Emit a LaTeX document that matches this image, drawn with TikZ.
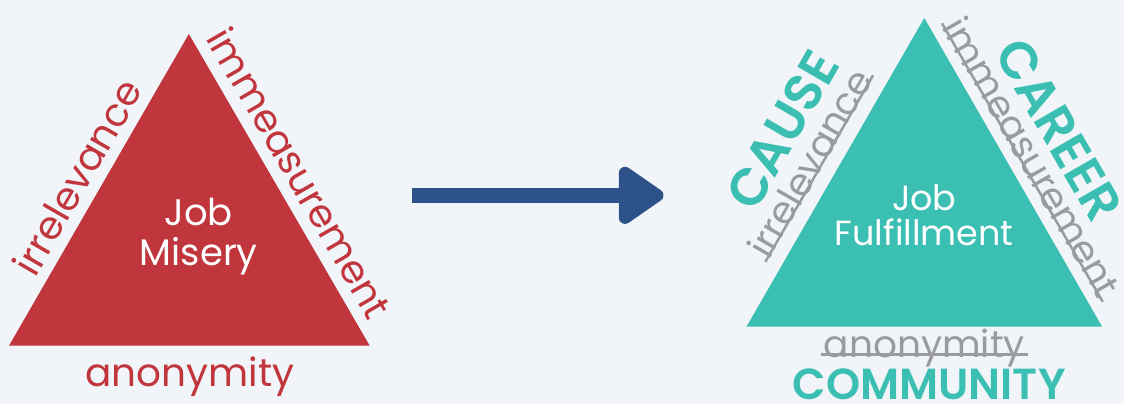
\documentclass[tikz,border=0pt]{standalone}
\usepackage{fontspec}
\setmainfont{Poppins}
\newfontfamily\semibold{Poppins SemiBold}
\usetikzlibrary{arrows.meta}

\definecolor{miseryRed}{HTML}{C0363C}
\definecolor{fulfilTeal}{HTML}{3BBFB2}
\definecolor{arrowBlue}{HTML}{2D5189}
\definecolor{strikeGray}{HTML}{9A9B9E}
\definecolor{canvasBg}{HTML}{F1F5F9}

\begin{document}
\begin{tikzpicture}[x=1pt,y=1pt,
  centerword/.style={text=white, align=center, inner sep=0pt},
  oldword/.style={text=miseryRed, inner sep=0pt, font=\fontsize{39}{42}\selectfont},
  strikeword/.style={text=strikeGray, inner xsep=3pt, inner ysep=0pt, font=\fontsize{37.5}{40}\selectfont},
  newword/.style={text=fulfilTeal, inner sep=0pt, font=\semibold\fontsize{52}{56}\selectfont},
  strike/.style={draw=strikeGray, line width=2.5pt}]

% Canvas (same size as the reference, 1125 x 404)
\fill[canvasBg] (0,0) rectangle (1125,404);

% --- Corners of the two triangles ---
\coordinate (redApex)   at (189,370);
\coordinate (redLeft)   at (9,58);
\coordinate (redRight)  at (370,58);
\coordinate (tealApex)  at (925,386);
\coordinate (tealLeft)  at (747,77);
\coordinate (tealRight) at (1103,77);

% --- Left: Job Misery ---
\fill[miseryRed] (redApex) -- (redLeft) -- (redRight) -- cycle;
\node[centerword, font=\fontsize{37}{40}\selectfont] (misery) at (199,167) {Job\\Misery};
\node[oldword, rotate=60]  (redIrr)  at (77,227)  {irrelevance};
\node[oldword, rotate=-60] (redImm)  at (300,231) {immeasurement};
\node[oldword]             (redAnon) at (190,27)  {anonymity};

% --- Arrow ---
\coordinate (arrowTail) at (412,208.5);
\coordinate (arrowHead) at (664,208.5);
\draw[arrowBlue, line width=15pt, -{Triangle[length=50pt, width=65pt, round]}] (arrowTail) -- (arrowHead);

% --- Right: Job Fulfillment ---
\fill[fulfilTeal] (tealApex) -- (tealLeft) -- (tealRight) -- cycle;
\node[centerword, font=\fontsize{35}{35}\selectfont] (fulfil) at (925,189) {Job\\Fulfillment};

% crossed-out words
\node[strikeword, rotate=60]  (grayIrr)  at (810,241)  {irrelevance};
\node[strikeword, rotate=-60] (grayImm)  at (1033,247) {immeasurement};
\node[strikeword]             (grayAnon) at (925,56)   {anonymity};
\draw[strike] (grayIrr.mid west)  -- (grayIrr.mid east);
\draw[strike] (grayImm.mid west)  -- (grayImm.mid east);
\draw[strike] (grayAnon.mid west) -- (grayAnon.mid east);

% new words
\node[newword, rotate=60]  (cause)     at (783,274)  {CAUSE};
\node[newword, rotate=-60] (career)    at (1060,274) {CAREER};
\node[newword, font=\semibold\fontsize{43.5}{46}\selectfont] (community) at (930,19) {COMMUNITY};

\end{tikzpicture}
\end{document}
